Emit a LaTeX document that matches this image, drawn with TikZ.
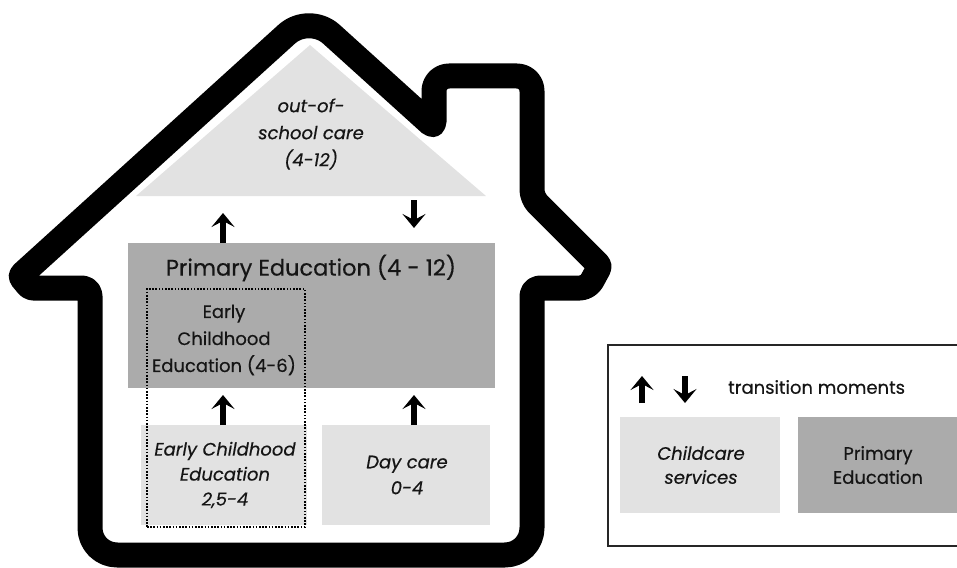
\documentclass[tikz,border=0pt]{standalone}
\usepackage{fontspec}
\setmainfont{Poppins}[FakeBold=0.4]
\usetikzlibrary{arrows.meta}
\definecolor{lightbox}{HTML}{E2E2E2}
\definecolor{darkbox}{HTML}{ABABAB}
\definecolor{txt}{HTML}{151515}
\begin{document}
\begin{tikzpicture}[x=1pt,y=-1pt,
  house/.style={line width=25pt, line join=round, black},
  trans/.style={line width=5.5pt, -{Stealth[length=14pt,width=23pt,inset=6pt]}},
  box/.style={inner sep=0pt, anchor=north west},
  lbl/.style={align=center, text=txt, font=\fontsize{18}{27}\selectfont, inner sep=0pt},
  title/.style={align=center, text=txt, font=\fontsize{22.5}{27}\selectfont, inner sep=0pt},
  legendframe/.style={line width=1.6pt, draw=black!85},
  dottedbox/.style={line width=1.8pt, dash pattern=on 1.6pt off 1.6pt, draw=black}
]
\useasboundingbox (0,0) rectangle (957,567);
\clip (0,0) rectangle (957,567);

% house outline
\draw[house] (311,555) [rounded corners=27pt] -- (532,555) [rounded corners=8pt] -- (532,288)
  -- (588,288) [rounded corners=3pt] -- (600,266) [rounded corners=8pt] -- (532,198)
  [rounded corners=15pt] -- (532,76) -- (434,76) [rounded corners=5pt] -- (434,127)
  [rounded corners=30pt] -- (309,14) [rounded corners=3pt] -- (20,276) -- (30,288)
  [rounded corners=8pt] -- (90,288) [rounded corners=27pt] -- (90,555) -- cycle;

% out-of-school care triangle
\fill[lightbox] (136,196) coordinate (tl) -- (310,45) coordinate (tapex) -- (486,196) coordinate (tr) -- cycle;
\node[lbl, font=\fontsize{18}{27}\selectfont\itshape] (osc) at (311,134) {out-of-\\school care\\(4-12)};

% primary education box
\node[box, fill=darkbox, minimum width=367pt, minimum height=145pt] (pe) at (128,243) {};
\node[title] (petitle) at (311,268) {Primary Education (4 - 12)};

% lower boxes
\node[box, fill=lightbox, minimum width=166pt, minimum height=100pt] (ece) at (141,425) {};
\node[box, fill=lightbox, minimum width=168pt, minimum height=100pt] (dc) at (322,425) {};
\node[lbl, font=\fontsize{18}{25}\selectfont\itshape] (ecetext) at (225,475) {Early Childhood\\Education\\2,5-4};
\node[lbl, font=\fontsize{18}{26}\selectfont\itshape] (dctext) at (407,475) {Day care\\0-4};

% early childhood education (4-6) text and dotted box
\node[lbl] (ece46) at (224,340) {Early\\Childhood\\Education (4-6)};
\node[box, dottedbox, minimum width=158pt, minimum height=238pt] (dotbox) at (146,288) {};

% transition arrows
\coordinate (a1) at (223,243);
\coordinate (a1e) at (223,213);
\draw[trans] (a1) -- (a1e);
\coordinate (a2) at (414,200);
\coordinate (a2e) at (414,228);
\draw[trans] (a2) -- (a2e);
\coordinate (a3) at (223,425);
\coordinate (a3e) at (223,395);
\draw[trans] (a3) -- (a3e);
\coordinate (a4) at (414,425);
\coordinate (a4e) at (414,395);
\draw[trans] (a4) -- (a4e);

% legend
\node[box, legendframe, minimum width=380pt, minimum height=201pt] (legend) at (607,344) {};
\coordinate (l1) at (642,403);
\coordinate (l1e) at (642,376);
\draw[trans] (l1) -- (l1e);
\coordinate (l2) at (685,376);
\coordinate (l2e) at (685,403);
\draw[trans] (l2) -- (l2e);
\node[lbl, anchor=west] (tm) at (728,387) {transition moments};
\node[box, fill=lightbox, minimum width=160pt, minimum height=96pt] (lcc) at (620,417) {};
\node[box, fill=darkbox, minimum width=160pt, minimum height=96pt] (lpe) at (798,417) {};
\node[lbl, font=\fontsize{18}{24}\selectfont\itshape] (lcctext) at (701,465) {Childcare\\services};
\node[lbl, font=\fontsize{18}{24}\selectfont] (lpetext) at (878,465) {Primary\\Education};
\end{tikzpicture}
\end{document}
